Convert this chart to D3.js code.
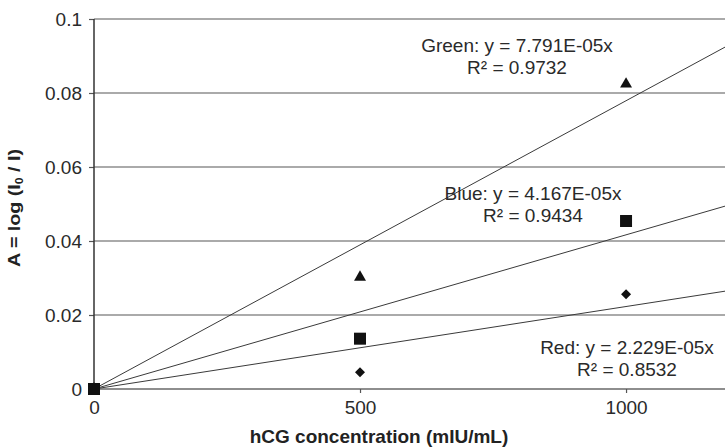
<!DOCTYPE html>
<html>
<head>
<meta charset="utf-8">
<script src="https://cdn.jsdelivr.net/npm/d3@7"></script>
<style>
    body { margin: 0; background: #fff; }
    svg { display: block; font-family: "Liberation Sans", Arial, sans-serif; }
</style>
</head>
<body>
<svg id="chart" width="725" height="447"></svg>
<script>
// data
const concentrations = [0, 500, 1000];
const greenValues = [0, 0.0302, 0.0824];
const blueValues = [0, 0.0136, 0.0454];
const redValues = [0, 0.0045, 0.0256];
const slopes = [7.791e-5, 4.167e-5, 2.229e-5];
const fitLabels = [
    ["Green: y = 7.791E-05x", "R² = 0.9732"],
    ["Blue: y = 4.167E-05x", "R² = 0.9434"],
    ["Red: y = 2.229E-05x", "R² = 0.8532"]
];
const yTicks = [0, 0.02, 0.04, 0.06, 0.08, 0.1];
const xTicks = [0, 500, 1000];

const svg = d3.select('#chart');
const W = 725;
const x = d3.scaleLinear().domain([0, 1186]).range([94, W]);
const y = d3.scaleLinear().domain([0, 0.1]).range([389, 19]);

// grid
svg.append('g')
    .selectAll('line')
    .data(yTicks)
    .join('line')
    .attr('x1', x(0)).attr('x2', W)
    .attr('y1', d => y(d)).attr('y2', d => y(d))
    .attr('stroke', '#8e8e8e')
    .attr('stroke-width', d => d === 0 ? 2 : 1.5);

// axes
const yAxis = svg.append('g')
    .attr('transform', `translate(${x(0)},0)`)
    .call(d3.axisLeft(y).tickValues(yTicks).tickFormat(d3.format('~g')).tickSize(5).tickPadding(7));
const xAxis = svg.append('g')
    .attr('transform', `translate(0,${y(0)})`)
    .call(d3.axisBottom(x).tickValues(xTicks).tickFormat(d3.format('d')).tickSize(4).tickPadding(8));
[yAxis, xAxis].forEach(a => {
    a.select('.domain').remove();
    a.selectAll('line').attr('stroke', '#555').attr('stroke-width', 1.2);
    a.selectAll('text').attr('font-size', 19).attr('fill', '#2a2a2a').attr('font-family', '"Liberation Sans", Arial, sans-serif');
});
svg.append('line')
    .attr('x1', x(0)).attr('x2', x(0))
    .attr('y1', y(0.1)).attr('y2', y(0))
    .attr('stroke', '#333').attr('stroke-width', 1.5);

// trend lines
svg.append('g')
    .selectAll('line')
    .data(slopes)
    .join('line')
    .attr('x1', x(0)).attr('y1', y(0))
    .attr('x2', x(x.domain()[1]))
    .attr('y2', d => y(d * x.domain()[1]))
    .attr('stroke', '#3a3a3a')
    .attr('stroke-width', 1);

// markers
const series = [
    {values: redValues, type: d3.symbolSquare, size: 50, rotate: 45},
    {values: greenValues, type: d3.symbolTriangle, size: 62, rotate: 0},
    {values: blueValues, type: d3.symbolSquare, size: 144, rotate: 0}
];
series.forEach(s => {
    svg.append('g')
        .selectAll('path')
        .data(s.values)
        .join('path')
        .attr('d', d3.symbol().type(s.type).size(s.size))
        .attr('transform', (d, i) => `translate(${x(concentrations[i])},${y(d)}) rotate(${s.rotate})`)
        .attr('fill', '#111');
});

// fit labels
const labelPos = [[517, 52], [533, 200], [627, 354]];
fitLabels.forEach((lines, i) => {
    const t = svg.append('text')
        .attr('text-anchor', 'middle')
        .attr('font-size', 19)
        .attr('fill', '#2a2a2a');
    lines.forEach((line, j) => {
        t.append('tspan')
            .attr('x', labelPos[i][0])
            .attr('y', labelPos[i][1] + j * 22)
            .text(line);
    });
});

// axis titles
svg.append('text')
    .attr('x', 379).attr('y', 443)
    .attr('text-anchor', 'middle')
    .attr('font-size', 19)
    .attr('font-weight', 'bold')
    .attr('fill', '#222')
    .text('hCG concentration (mIU/mL)');

const yTitle = svg.append('text')
    .attr('transform', 'translate(20,208) rotate(-90)')
    .attr('text-anchor', 'middle')
    .attr('font-size', 16)
    .attr('font-weight', 'bold')
    .attr('fill', '#222');
yTitle.append('tspan').text('A = log (I');
yTitle.append('tspan').attr('font-size', 10).attr('dy', 3).text('0');
yTitle.append('tspan').attr('dy', -3).text(' / I)');
yTitle.attr('textLength', 118).attr('lengthAdjust', 'spacingAndGlyphs');
</script>
</body>
</html>
